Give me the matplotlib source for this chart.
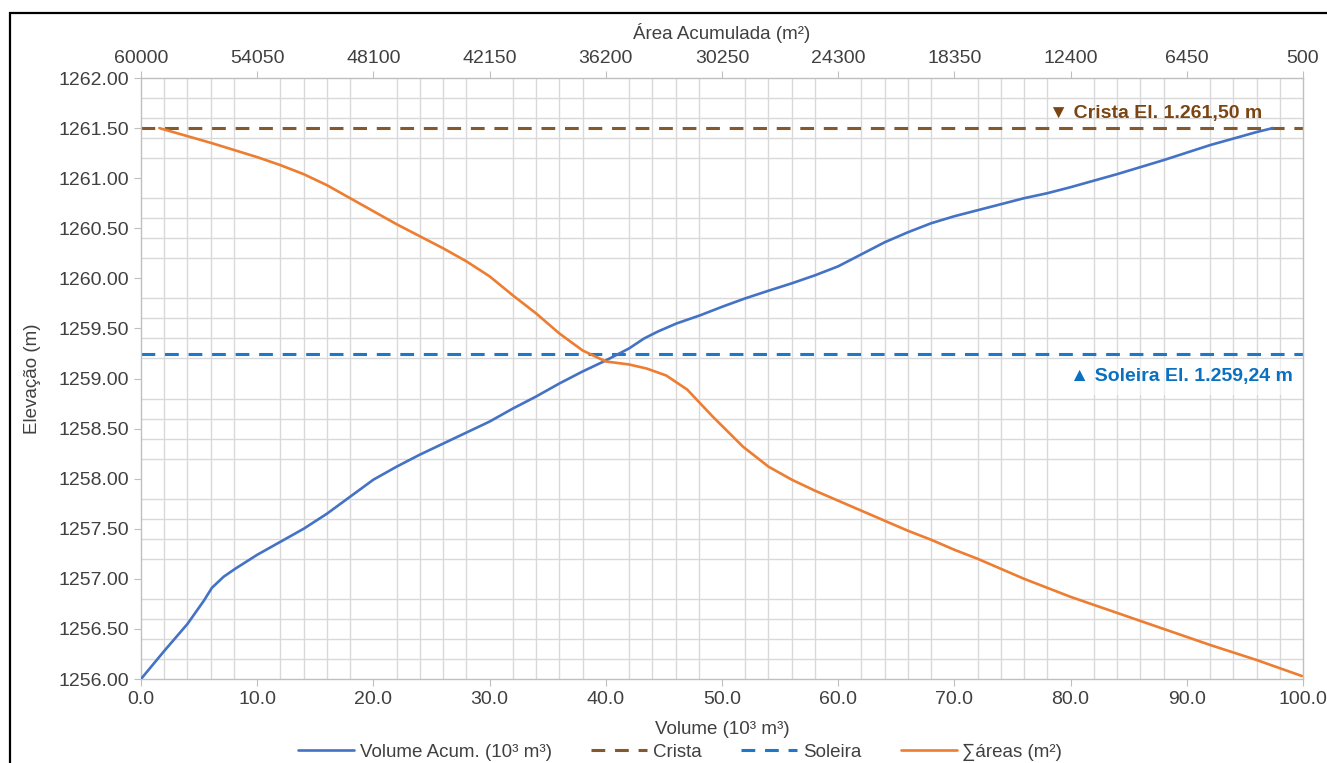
import matplotlib
matplotlib.use("Agg")
import matplotlib.pyplot as plt
from matplotlib.patches import Rectangle
import numpy as np

plt.rcParams['font.family'] = ['Liberation Sans', 'DejaVu Sans']

# ---- data ----
vol_values = [0.0, 2.0, 4.0, 5.4, 6.1, 7.1, 8.1, 10.0, 12.0, 14.0, 16.0, 18.0,
              20.0, 22.0, 24.0, 26.0, 28.0, 30.0, 32.0, 34.0, 36.0, 38.0, 40.0,
              42.0, 43.3, 44.5, 46.1, 48.1, 50.1, 52.0, 54.1, 56.0, 58.0, 60.0,
              62.0, 64.0, 66.0, 68.0, 70.0, 72.0, 74.0, 76.0, 78.0, 80.0, 84.0,
              88.0, 92.0, 96.0, 97.4]
vol_elev = [1256.00, 1256.28, 1256.55, 1256.78, 1256.91, 1257.02, 1257.10, 1257.24,
            1257.37, 1257.50, 1257.65, 1257.82, 1257.99, 1258.12, 1258.24, 1258.35,
            1258.46, 1258.57, 1258.70, 1258.82, 1258.95, 1259.07, 1259.18, 1259.30,
            1259.40, 1259.47, 1259.55, 1259.63, 1259.72, 1259.80, 1259.88, 1259.95,
            1260.03, 1260.12, 1260.24, 1260.36, 1260.46, 1260.55, 1260.62, 1260.68,
            1260.74, 1260.80, 1260.85, 1260.91, 1261.04, 1261.18, 1261.33, 1261.46,
            1261.50]

area_values = [59063, 56380, 54050, 52860, 51670, 50480, 49290, 48100, 46910,
               45720, 44530, 43340, 42150, 40960, 39770, 38580, 37390, 36200,
               35010, 34117, 33106, 32035, 30726, 29179, 27870, 26680, 25490,
               24300, 23110, 21920, 20730, 19540, 18350, 17160, 15970, 14780,
               13590, 12400, 10020, 7640, 5260, 2880, 560]
area_elev = [1261.50, 1261.35, 1261.21, 1261.13, 1261.04, 1260.93, 1260.80, 1260.67,
             1260.54, 1260.42, 1260.30, 1260.17, 1260.02, 1259.83, 1259.65, 1259.45,
             1259.28, 1259.17, 1259.14, 1259.10, 1259.03, 1258.89, 1258.62, 1258.32,
             1258.12, 1257.99, 1257.88, 1257.78, 1257.68, 1257.58, 1257.48, 1257.39,
             1257.29, 1257.20, 1257.10, 1257.00, 1256.91, 1256.82, 1256.66, 1256.50,
             1256.34, 1256.19, 1256.03]

crista_elev = 1261.50
soleira_elev = 1259.24

x_ticks = [0, 10, 20, 30, 40, 50, 60, 70, 80, 90, 100]
top_ticks = [60000, 54050, 48100, 42150, 36200, 30250, 24300, 18350, 12400, 6450, 500]
y_ticks = [1256.0, 1256.5, 1257.0, 1257.5, 1258.0, 1258.5, 1259.0, 1259.5,
           1260.0, 1260.5, 1261.0, 1261.5, 1262.0]

# ---- styles ----
C_BLUE = '#4472C4'
C_ORANGE = '#ED7D31'
C_CRISTA = '#845A2C'
C_CRISTA_TXT = '#7A4512'
C_SOL = '#1F77C8'
C_SOL_TXT = '#0A70C0'
C_GRID = '#d9d9d9'
C_TXT = '#404040'
FS_TICK = 14
FS_LAB = 13.5

fig = plt.figure(figsize=(13.27, 7.63), dpi=100)
W, H = 1327, 763
L, R, T, B = 141, 1303, 78, 679
ax = fig.add_axes([L / W, 1 - B / H, (R - L) / W, (B - T) / H])

ax.set_xlim(0, 100)
ax.set_ylim(1256, 1262)
ax.set_xticks(x_ticks)
ax.set_xticklabels([f"{v:.1f}" for v in x_ticks])
ax.set_yticks(y_ticks)
ax.set_yticklabels([f"{v:.2f}" for v in y_ticks])
ax.set_xticks(np.arange(0, 100.01, 2), minor=True)
ax.set_yticks(np.arange(1256, 1262.01, 0.2), minor=True)
ax.grid(True, which='minor', color=C_GRID, lw=1.0, zorder=0)
ax.grid(False, which='major')
ax.tick_params(axis='both', which='minor', length=0)
ax.tick_params(axis='both', which='major', length=5, color='#bfbfbf',
               labelsize=FS_TICK, labelcolor=C_TXT, direction='out')
ax.tick_params(axis='x', pad=4)
for s in ax.spines.values():
    s.set_color('#bfbfbf')
    s.set_linewidth(1.0)

ax.set_xlabel('Volume (10³ m³)', fontsize=FS_LAB, color=C_TXT)
ax.xaxis.set_label_coords(0.5, -0.070)
ax.set_ylabel('Elevação (m)', fontsize=FS_LAB, color=C_TXT)
ax.yaxis.set_label_coords(-0.086, 0.5)

ax.set_axisbelow(True)
l_vol, = ax.plot(vol_values, vol_elev, color=C_BLUE, lw=1.9, zorder=3,
                 solid_capstyle='round', solid_joinstyle='round',
                 label='Volume Acum. (10³ m³)')
l_cr = ax.axhline(crista_elev, color=C_CRISTA, lw=2.2, dashes=(4.5, 3.2), zorder=2,
                  label='Crista')
l_so = ax.axhline(soleira_elev, color=C_SOL, lw=2.2, dashes=(4.5, 3.2), zorder=2,
                  label='Soleira')

ax.text(96.5, 1261.65, '▼ Crista El. 1.261,50 m', ha='right', va='center',
        fontsize=14, fontweight='bold', color=C_CRISTA_TXT, zorder=6)
ax.text(99.1, 1259.015, '▲ Soleira El. 1.259,24 m', ha='right', va='center',
        fontsize=14, fontweight='bold', color=C_SOL_TXT, zorder=6,
        bbox=dict(boxstyle='square,pad=0.5', facecolor='white', alpha=0.55,
                  edgecolor='none'))

ax2 = ax.twiny()
ax2.set_xlim(60000, 500)
ax2.set_xticks(top_ticks)
ax2.set_xticklabels([str(v) for v in top_ticks])
ax2.tick_params(axis='x', which='major', length=5, color='#bfbfbf',
                labelsize=FS_TICK, labelcolor=C_TXT, pad=3)
ax2.tick_params(axis='x', which='minor', length=0)
for s in ax2.spines.values():
    s.set_visible(False)
ax2.set_xlabel('Área Acumulada (m²)', fontsize=FS_LAB, color=C_TXT)
ax2.xaxis.set_label_coords(0.5, 1.065)
l_area, = ax2.plot(area_values, area_elev, color=C_ORANGE, lw=1.9, zorder=3,
                   solid_capstyle='round', solid_joinstyle='round',
                   label='∑áreas (m²)')

fig.legend(handles=[l_vol, l_cr, l_so, l_area], loc='center',
           bbox_to_anchor=(680 / W, 1 - 752 / H), ncol=4, frameon=False,
           fontsize=FS_LAB, handlelength=3.0, handletextpad=0.3,
           columnspacing=2.1, labelcolor=C_TXT)

fig.add_artist(Rectangle((10 / W, -0.2), 1.2, 1.2 - 13 / H, transform=fig.transFigure,
                         fill=False, edgecolor='black', lw=1.6))

fig.savefig('out.png', dpi=100)
